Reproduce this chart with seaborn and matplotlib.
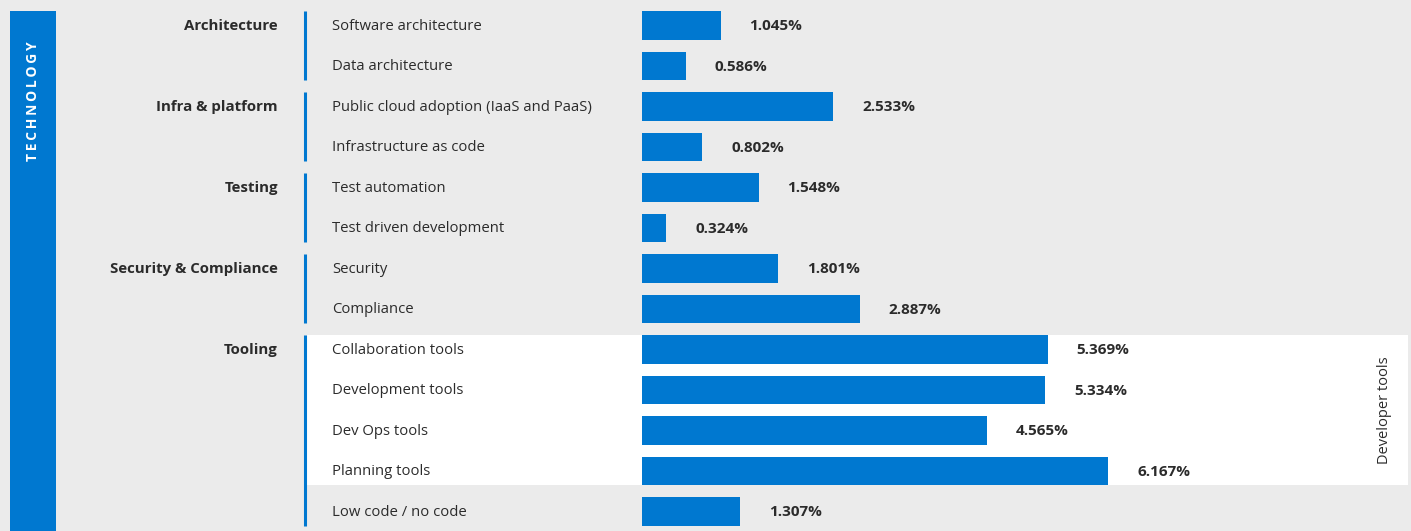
import matplotlib
matplotlib.use("Agg")
import matplotlib.pyplot as plt
import seaborn as sns
import pandas as pd
from matplotlib.transforms import blended_transform_factory
from matplotlib.patches import Rectangle

# ---- data ----
section_label = "TECHNOLOGY"
groups = ["Architecture", "Infra & platform", "Testing", "Security & Compliance", "Tooling"]
group_sizes = [2, 2, 2, 2, 5]
items = [
    "Software architecture",
    "Data architecture",
    "Public cloud adoption (IaaS and PaaS)",
    "Infrastructure as code",
    "Test automation",
    "Test driven development",
    "Security",
    "Compliance",
    "Collaboration tools",
    "Development tools",
    "Dev Ops tools",
    "Planning tools",
    "Low code / no code",
]
values = [1.045, 0.586, 2.533, 0.802, 1.548, 0.324, 1.801, 2.887,
          5.369, 5.334, 4.565, 6.167, 1.307]
highlight_label = "Developer tools"
highlight_items = ["Collaboration tools", "Development tools", "Dev Ops tools", "Planning tools"]

# ---- style ----
BG = "#ebebeb"
BLUE = "#0078d0"
TEXT = "#2b2b2b"
W, H = 1411, 531
FONT = ["Open Sans", "DejaVu Sans"]

sns.set_style("white")
plt.rcParams["font.family"] = FONT

fig = plt.figure(figsize=(W / 100, H / 100), dpi=100, facecolor=BG)
ax = fig.add_axes([0, 0, 1, 1])
ax.set_facecolor("none")

BAR_H = 0.716
df = pd.DataFrame({"item": items, "value": values})
sns.barplot(data=df, y="item", x="value", orient="h", order=items,
            color=BLUE, saturation=1, width=BAR_H, linewidth=0, ax=ax, zorder=3)

# pixel geometry of the value axis: zero at x=641.5px, 75.65px per percent
x0_px, px_per_unit = 641.5, 75.65
ax.set_xlim(-x0_px / px_per_unit, (W - x0_px) / px_per_unit)
row0_px, row_px = 25.5, 40.5
ax.set_ylim((H - row0_px) / row_px, -row0_px / row_px)
ax.axis("off")

trans = blended_transform_factory(fig.transFigure, ax.transData)
half = BAR_H / 2
dy = 0.02  # small downward nudge for text baselines

# highlight band for the developer tools rows
hi_idx = [items.index(it) for it in highlight_items]
h_top, h_bot = min(hi_idx) - half, max(hi_idx) + half
ax.add_patch(Rectangle((307 / W, h_top), (1408 - 307) / W, h_bot - h_top,
                       transform=trans, facecolor="white", edgecolor="none", zorder=0))
ax.text(1385 / W, (h_top + h_bot) / 2, highlight_label, transform=trans,
        rotation=90, ha="center", va="center", fontsize=10.5, color=TEXT)

# section strip on the left
fig.patches.append(Rectangle((10 / W, 0), 46 / W, 1 - 11 / H,
                             transform=fig.transFigure, facecolor=BLUE,
                             edgecolor="none", zorder=1))
fig.text(33 / W, 1 - 101 / H, "\u2009".join(section_label), rotation=90,
         ha="center", va="center", color="white", fontsize=10, fontweight="bold")

# group labels and separators
start = 0
for g, n in zip(groups, group_sizes):
    ax.text(278 / W, start + dy, g, transform=trans, ha="right", va="center",
            fontsize=10.8, fontweight="bold", color=TEXT)
    ax.plot([305 / W, 305 / W], [start - half, start + n - 1 + half], transform=trans,
            color=BLUE, lw=2.2, solid_capstyle="butt", zorder=4)
    start += n

# item labels
for i, it in enumerate(items):
    ax.text(332 / W, i + dy, it, transform=trans, ha="left", va="center",
            fontsize=10.7, color=TEXT)

# value labels
for i, v in enumerate(values):
    ax.annotate(f"{v:.3f}%", xy=(v, i + dy), xytext=(29, 0), textcoords="offset pixels",
                ha="left", va="center", fontsize=11, fontweight="bold", color=TEXT)

fig.savefig("out.png", dpi=100, facecolor=BG)
